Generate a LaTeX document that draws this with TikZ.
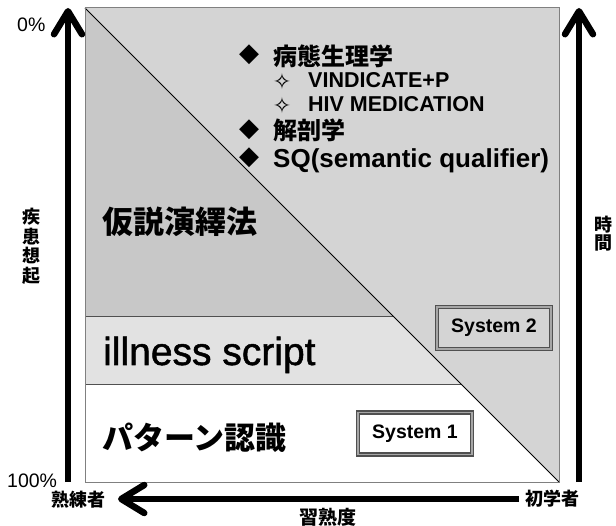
\documentclass[tikz,border=0pt]{standalone}
\usepackage{fontspec}
\setmainfont{Liberation Sans}
\newfontfamily\jp{Noto Sans CJK JP}
\newfontfamily\symf{DejaVu Sans}
\newfontfamily\fatsans[FakeBold=1.3]{Liberation Sans}
\usetikzlibrary{arrows.meta}
\definecolor{gdark}{HTML}{C8C8C8}
\definecolor{gright}{HTML}{D4D4D4}
\definecolor{gband}{HTML}{E2E2E2}
\definecolor{framec}{HTML}{808080}
\definecolor{sepc}{HTML}{505050}
\begin{document}
\begin{tikzpicture}[x=1pt,y=-1pt,
  axis/.style={line width=6.5pt, -{Straight Barb[length=23pt,width=28pt,round]}},
  vlbl/.style={font=\jp\bfseries\fontsize{18}{19.5}\selectfont, inner sep=0pt, align=center},
  hlbl/.style={font=\jp\bfseries\fontsize{18}{18}\selectfont, inner sep=0pt},
  bigjp/.style={font=\jp\bfseries\fontsize{31}{31}\selectfont, inner sep=0pt, anchor=west},
  midjp/.style={font=\jp\bfseries\fontsize{24}{24}\selectfont, inner sep=0pt, anchor=west},
  diam/.style={font=\symf\fontsize{26}{26}\selectfont, inner sep=0pt},
  spark/.style={font=\symf\fontsize{22}{22}\selectfont, inner sep=0pt},
  sub/.style={font=\bfseries\fontsize{21.5}{21.5}\selectfont, inner sep=0pt, anchor=base west},
  pct/.style={font=\fontsize{19.5}{19.5}\selectfont, inner sep=0pt, anchor=base west},
  sysbox/.style={draw=sepc, line width=1.3pt, double=gray!70, double distance=1.6pt,
    minimum width=114pt, minimum height=42pt, inner sep=0pt,
    font=\bfseries\fontsize{19.5}{19.5}\selectfont}
]
\useasboundingbox (0,0) rectangle (616,526);
% corners of the main box
\coordinate (TL) at (85,8);
\coordinate (TR) at (559,8);
\coordinate (BR) at (559,482);
\coordinate (BL) at (85,482);
\coordinate (A1) at (85,317);
\coordinate (D1) at (394,317);
\coordinate (A2) at (85,385);
\coordinate (D2) at (462,385);
% regions
\fill[gright] (TL) -- (TR) -- (BR) -- cycle;
\fill[gdark] (TL) -- (D1) -- (A1) -- cycle;
\fill[gband] (A1) -- (D1) -- (D2) -- (A2) -- cycle;
\fill[white] (A2) -- (D2) -- (BR) -- (BL) -- cycle;
\draw[sepc, line width=1pt] (A1) -- (D1);
\draw[sepc, line width=1pt] (A2) -- (D2);
\draw[black, line width=0.9pt] (TL) -- (BR);
\draw[framec, line width=1pt] (TL) rectangle (BR);
% region labels
\node[bigjp] (hd) at (102,222) {仮説演繹法};
\node[font=\fatsans\fontsize{39}{39}\selectfont, inner sep=0pt, anchor=base west] (ils) at (103,365) {illness script};
\node[bigjp] (pr) at (102,438) {パターン認識};
% bullets
\node[diam] (b1) at (249,55) {◆};
\node[midjp] (t1) at (273,56) {病態生理学};
\node[spark] (s1) at (282,81) {✧};
\node[sub] (t2) at (308,88) {VINDICATE+P};
\node[spark] (s2) at (282,105) {✧};
\node[sub] (t3) at (308,112) {HIV MEDICATION};
\node[diam] (b2) at (249,130) {◆};
\node[midjp] (t4) at (273,130) {解剖学};
\node[diam] (b3) at (249,158) {◆};
\node[font=\bfseries\fontsize{26}{26}\selectfont, inner sep=0pt, anchor=base west] (t5) at (273,168) {SQ(semantic qualifier)};
% system boxes
\node[sysbox, fill=gright] (sys2) at (494,328) {System 2};
\node[sysbox, fill=white] (sys1) at (415,433.5) {System 1};
% axes
\coordinate (L0) at (68,482);
\coordinate (L1) at (68,8);
\coordinate (R0) at (579,482);
\coordinate (R1) at (579,8);
\coordinate (H0) at (519,499);
\coordinate (H1) at (118,499);
\draw[axis] (L0) -- (L1);
\draw[axis] (R0) -- (R1);
\draw[axis] (H0) -- (H1);
% axis labels
\node[pct] (p0) at (17,32) {0\%};
\node[pct] (p100) at (7,487) {100\%};
\node[vlbl] (yl) at (32,246.5) {疾\\患\\想\\起};
\node[vlbl, font=\jp\bfseries\fontsize{18}{17.5}\selectfont] (tl) at (603,233.5) {時\\間};
\node[hlbl] (ex) at (78,500) {熟練者};
\node[hlbl] (nv) at (552,499) {初学者};
\node[font=\jp\bfseries\fontsize{19}{19}\selectfont, inner sep=0pt] (xl) at (328,517) {習熟度};
\end{tikzpicture}
\end{document}
